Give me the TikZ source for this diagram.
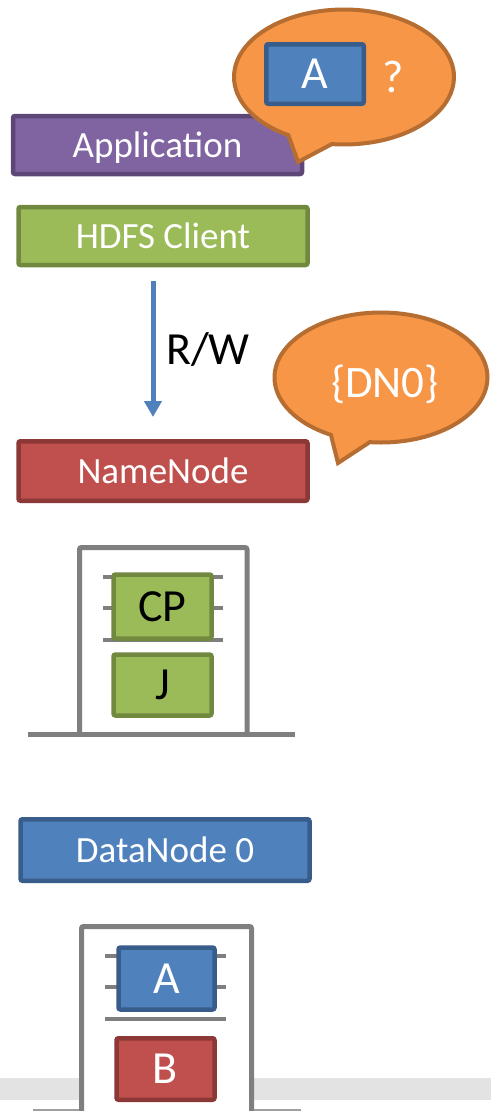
\documentclass[tikz,border=0pt]{standalone}
\usepackage{fontspec}
\setmainfont{Carlito}
\usetikzlibrary{arrows.meta,shapes.callouts}

\definecolor{appfill}{HTML}{8064A2}
\definecolor{appline}{HTML}{5C4776}
\definecolor{clientfill}{HTML}{9BBB59}
\definecolor{clientline}{HTML}{71893F}
\definecolor{nnfill}{HTML}{C0504D}
\definecolor{nnline}{HTML}{8C3836}
\definecolor{dnfill}{HTML}{4F81BD}
\definecolor{dnline}{HTML}{385D8A}
\definecolor{bubblefill}{HTML}{F79646}
\definecolor{bubbleline}{HTML}{B66D31}
\definecolor{framegray}{HTML}{7F7F7F}
\definecolor{floorgray}{HTML}{E3E3E3}

\begin{document}
\begin{tikzpicture}[x=1pt,y=-1pt,
  rolebox/.style={draw, line width=4.5pt, rounded corners=2pt, inner sep=0pt,
    text=white, font=\fontsize{37}{40}\selectfont, text height=24pt, text depth=0pt,
    minimum width=289pt, minimum height=58pt},
  chip/.style={draw, line width=4.5pt, rounded corners=2pt, inner sep=0pt,
    font=\fontsize{46}{50}\selectfont, text height=29.6pt, text depth=0pt,
    minimum width=98pt, minimum height=62pt},
  bigtext/.style={inner sep=0pt, font=\fontsize{46}{50}\selectfont, text height=29.6pt, text depth=0pt},
  bubble/.style={ellipse callout, draw=bubbleline, fill=bubblefill, line width=4pt,
    inner sep=0pt, callout pointer arc=24},
  frame/.style={draw=framegray, line width=5pt, rounded corners=2pt},
  bar/.style={draw=framegray, line width=4.5pt},
]
\useasboundingbox (0,0) rectangle (491,1111);

% floor band behind the lower disk
\fill[floorgray] (0,1078) rectangle (491,1100);
\draw[draw=framegray!75, line width=2pt] (33,1110) -- (301,1110);

% client side boxes
\node[rolebox, fill=appfill, draw=appline] (app) at (157.5,145) {Application};
\node[rolebox, fill=clientfill, draw=clientline] (client) at (163,236) {HDFS Client};
\node[rolebox, fill=nnfill, draw=nnline, minimum height=59.5pt] (namenode) at (163,471) {NameNode};
\node[rolebox, fill=dnfill, draw=dnline, minimum height=61.5pt] (datanode) at (165,850) {DataNode 0};

% question bubble
\node[bubble, minimum width=220pt, minimum height=135pt,
  callout absolute pointer={(298,162)}] (askbubble) at (344,77) {};
\node[chip, fill=dnfill, draw=dnline, text=white, minimum width=97.5pt, minimum height=59.5pt] (askblock) at (315,74) {A};
\node[bigtext, text=white] (askmark) at (393,78) {?};

% read/write arrow
\coordinate (rwtop) at (153,281);
\coordinate (rwtip) at (153,417);
\draw[dnfill, line width=5pt, -{Triangle[width=17pt,length=16pt]}] (rwtop) -- (rwtip);
\node[bigtext, anchor=west] (rwlabel) at (166,350) {R/W};

% answer bubble
\node[bubble, minimum width=213pt, minimum height=130pt, callout pointer arc=22,
  callout absolute pointer={(338,463)}] (replybubble) at (381,377.5) {};
\node[inner sep=0pt, text=white, font=\fontsize{45}{50}\selectfont, text height=27pt, text depth=0pt]
  (replytext) at (385,383.5) {\{DN0\}};

% NameNode disk
\draw[frame, fill=white] (79.5,734) -- (79.5,547.5) -- (247,547.5) -- (247,734);
\draw[bar, line width=5pt] (28,734) -- (295,734);
\draw[bar] (103,577) -- (223,577);
\draw[bar] (103,608) -- (223,608);
\draw[bar] (103,640) -- (223,640);
\node[chip, fill=clientfill, draw=clientline, minimum height=64pt] (checkpoint) at (162.5,606.5) {CP};
\node[chip, fill=clientfill, draw=clientline, minimum height=61pt] (journal) at (162.5,685) {J};

% DataNode disk
\draw[frame, fill=white] (81.5,1115) -- (81.5,926.5) -- (251.5,926.5) -- (251.5,1115);
\draw[bar] (105,956) -- (226,956);
\draw[bar] (105,987) -- (226,987);
\draw[bar] (105,1019) -- (226,1019);
\node[chip, fill=dnfill, draw=dnline, text=white, minimum width=96pt] (blocka) at (166.5,978.5) {A};
\node[chip, fill=nnfill, draw=nnline, text=white, minimum height=61.5pt] (blockb) at (165.5,1069) {B};
\end{tikzpicture}
\end{document}
